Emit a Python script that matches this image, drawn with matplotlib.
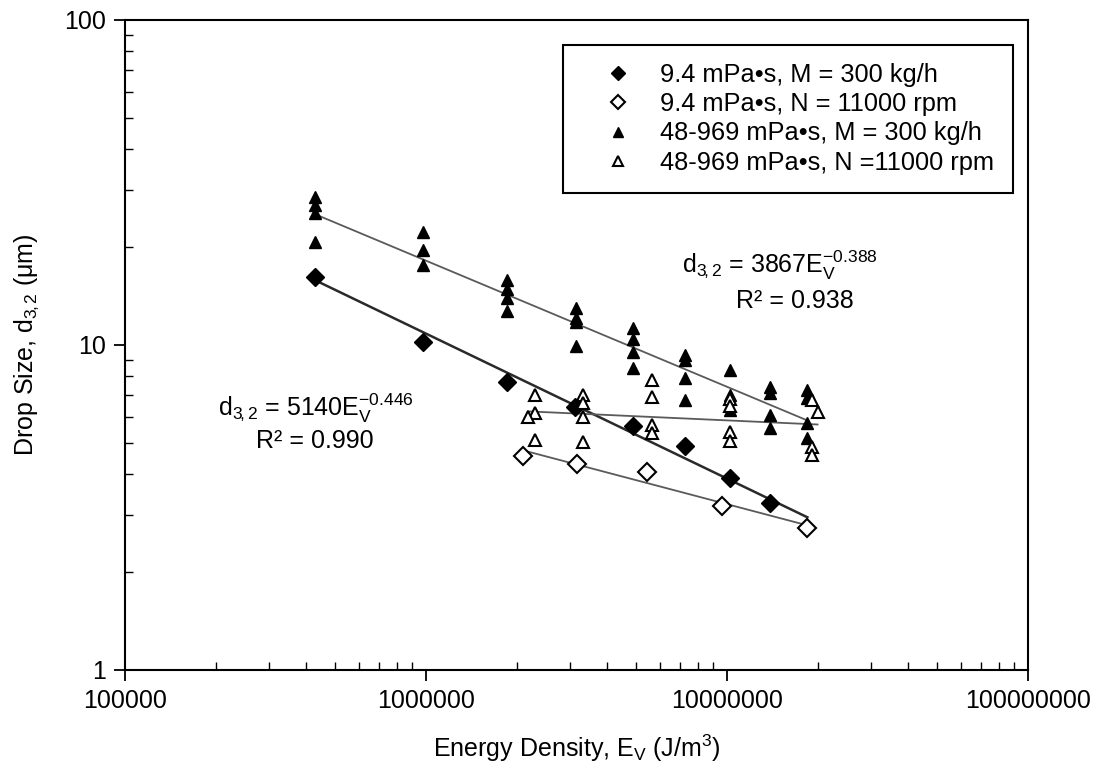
import numpy as np
import matplotlib
matplotlib.use('Agg')
from matplotlib import pyplot as plt
from matplotlib.ticker import FixedLocator, NullFormatter

plt.rcParams['font.family'] = ['Liberation Sans', 'DejaVu Sans']
plt.rcParams['mathtext.fontset'] = 'custom'
plt.rcParams['mathtext.rm'] = 'Liberation Sans'
plt.rcParams['mathtext.it'] = 'Liberation Sans:italic'

# 9.4 mPa.s, M = 300 kg/h (filled diamonds)
e_low_m = [4.28e5, 9.77e5, 1.86e6, 3.13e6, 4.88e6, 7.24e6, 1.02e7, 1.39e7]
d_low_m = [16.2, 10.2, 7.69, 6.45, 5.63, 4.89, 3.90, 3.26]

# 9.4 mPa.s, N = 11000 rpm (open diamonds)
e_low_n = [2.10e6, 3.18e6, 5.42e6, 9.62e6, 1.85e7]
d_low_n = [4.55, 4.30, 4.07, 3.20, 2.73]

# 48-969 mPa.s, M = 300 kg/h (filled triangles)
e_high_m = [4.28e5, 4.28e5, 4.28e5, 4.28e5,
            9.77e5, 9.77e5, 9.77e5,
            1.86e6, 1.86e6, 1.86e6, 1.86e6,
            3.15e6, 3.15e6, 3.15e6, 3.15e6,
            4.88e6, 4.88e6, 4.88e6, 4.88e6,
            7.24e6, 7.24e6, 7.24e6, 7.24e6,
            1.02e7, 1.02e7, 1.02e7,
            1.39e7, 1.39e7, 1.39e7, 1.39e7,
            1.85e7, 1.85e7, 1.85e7, 1.85e7]
d_high_m = [28.5, 27.0, 25.4, 20.7,
            22.3, 19.6, 17.6,
            15.8, 14.9, 13.9, 12.7,
            13.0, 12.1, 11.8, 9.9,
            11.3, 10.4, 9.5, 8.5,
            9.3, 9.0, 7.9, 6.77,
            8.38, 7.0, 6.31,
            7.43, 7.1, 6.09, 5.55,
            7.27, 6.87, 5.75, 5.17]

# 48-969 mPa.s, N = 11000 rpm (open triangles)
e_high_n = [2.30e6, 2.30e6, 2.30e6, 2.18e6,
            3.33e6, 3.33e6, 3.33e6, 3.33e6,
            5.63e6, 5.63e6, 5.63e6, 5.63e6,
            1.02e7, 1.02e7, 1.02e7, 1.02e7,
            1.91e7, 2.00e7, 1.91e7, 1.91e7]
d_high_n = [7.02, 6.18, 5.10, 6.00,
            7.02, 6.63, 6.00, 5.03,
            7.80, 6.92, 5.67, 5.36,
            6.80, 6.50, 5.40, 5.05,
            6.77, 6.22, 4.86, 4.59]

# power-law fits shown on the chart
fit_low_m = (5140, -0.446)
fit_high_m = (3867, -0.388)
fit_low_m_range = [4.28e5, 1.85e7]

labels = ['9.4 mPa\u2022s, M = 300 kg/h',
          '9.4 mPa\u2022s, N = 11000 rpm',
          '48-969 mPa\u2022s, M = 300 kg/h',
          '48-969 mPa\u2022s, N =11000 rpm']

fig = plt.figure(figsize=(11, 7.7), dpi=100)
ax = fig.add_axes([0.1136, 0.1299, 0.8209, 0.8442])
ax.set_xscale('log')
ax.set_yscale('log')
ax.set_xlim(1e5, 1e8)
ax.set_ylim(1, 100)


def power_line(e, coef, expo, color, lw):
    xs = np.logspace(np.log10(min(e)), np.log10(max(e)), 50)
    ax.plot(xs, coef * xs ** expo, color=color, lw=lw, zorder=2)


def fitted_line(e, d, color, lw):
    b, a = np.polyfit(np.log10(e), np.log10(d), 1)
    power_line(e, 10 ** a, b, color, lw)


power_line(e_high_m, *fit_high_m, color='#5a5a5a', lw=1.3)
power_line(fit_low_m_range, *fit_low_m, color='#2a2a2a', lw=1.8)
fitted_line(e_low_n, d_low_n, '#5a5a5a', 1.3)
fitted_line(e_high_n, d_high_n, '#5a5a5a', 1.3)

ax.plot(e_low_m, d_low_m, 'D', ms=9, mfc='black', mec='black',
        ls='none', label=labels[0], zorder=3)
ax.plot(e_low_n, d_low_n, 'D', ms=9, mfc='white', mec='black', mew=1.5,
        ls='none', label=labels[1], zorder=3)
ax.plot(e_high_m, d_high_m, '^', ms=9, mfc='black', mec='black',
        ls='none', label=labels[2], zorder=3)
ax.plot(e_high_n, d_high_n, '^', ms=9, mfc='white', mec='black', mew=1.5,
        ls='none', label=labels[3], zorder=3)

ax.text(4.3e5, 6.4, 'd$_{3\\!,2}$ = 5140E$_\\mathrm{V}^\\mathrm{-0.446}$',
        fontsize=18, ha='center', va='center')
ax.text(4.28e5, 5.07, 'R\u00b2 = 0.990', fontsize=18, ha='center',
        va='center')
ax.text(1.5e7, 17.6, 'd$_{3\\!,2}$ = 3867E$_\\mathrm{V}^\\mathrm{-0.388}$',
        fontsize=18, ha='center', va='center')
ax.text(1.68e7, 13.7, 'R\u00b2 = 0.938', fontsize=18, ha='center',
        va='center')

ax.xaxis.set_major_locator(FixedLocator([1e5, 1e6, 1e7, 1e8]))
ax.set_xticklabels(['100000', '1000000', '10000000', '100000000'])
ax.yaxis.set_major_locator(FixedLocator([1, 10, 100]))
ax.set_yticklabels(['1', '10', '100'])
ax.xaxis.set_minor_formatter(NullFormatter())
ax.yaxis.set_minor_formatter(NullFormatter())
ax.tick_params(which='major', direction='out', length=8, width=1.3,
               labelsize=18, pad=6)
ax.tick_params(which='minor', direction='in', length=6, width=1.0)
for s in ax.spines.values():
    s.set_linewidth(1.5)

ax.set_xlabel('Energy Density, E$_\\mathrm{V}$ (J/m$^3$)', fontsize=18,
              labelpad=14)
ax.set_ylabel('Drop Size, d$_{3\\!,2}$ (\u03bcm)', fontsize=18, labelpad=16)

leg = ax.legend(loc='upper right', bbox_to_anchor=(0.983, 0.9615),
                borderaxespad=0, fontsize=18.3, fancybox=False,
                edgecolor='black', framealpha=1, numpoints=1,
                borderpad=0.72, handlelength=2.9, handletextpad=0.2,
                labelspacing=0.2, markerscale=0.8)
leg.get_frame().set_linewidth(1.5)

fig.savefig('out.png', dpi=100)
